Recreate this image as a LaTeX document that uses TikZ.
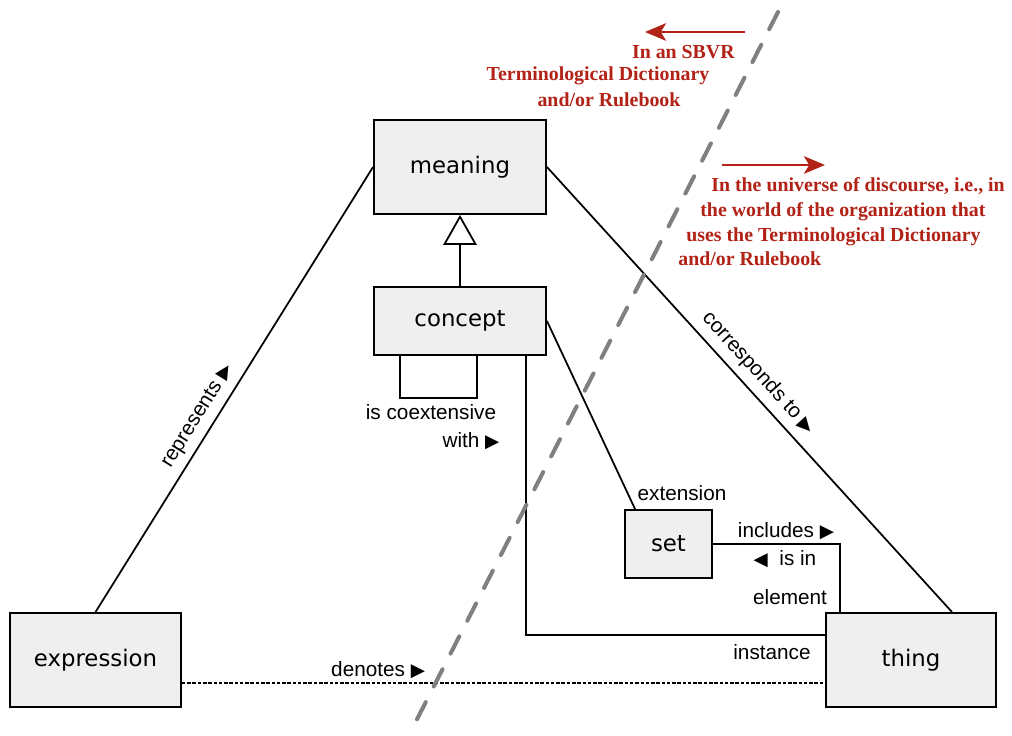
\documentclass[tikz,border=0pt]{standalone}
\usepackage{fontspec}
\setmainfont{Liberation Sans}
\newfontfamily\boxfont{DejaVu Sans}
\newfontfamily\notefont{Liberation Serif}
\usetikzlibrary{arrows.meta, calc, positioning}
\definecolor{boxgray}{RGB}{239,239,239}
\definecolor{notered}{RGB}{178,34,22}
\definecolor{splitgray}{RGB}{128,128,128}
\newcommand{\rtri}{{\boxfont\fontsize{10.5}{10}\selectfont\char"25B6}}
\newcommand{\ltri}{{\boxfont\fontsize{10.5}{10}\selectfont\char"25C0}}

\begin{document}
\begin{tikzpicture}[x=0.02cm, y=-0.02cm]
        \tikzstyle{box} = [rectangle, draw=black, line width=1.1pt, fill=boxgray, inner sep=0pt, font=\boxfont\fontsize{13}{15}\selectfont]
        \tikzstyle{lbl} = [inner sep=1pt, font=\fontsize{11.8}{13}\selectfont]
        \tikzstyle{link} = [draw=black, line width=1pt]
        \tikzstyle{note} = [text=notered, inner sep=0pt, font=\notefont\bfseries\fontsize{11.3}{13}\selectfont]
        \tikzstyle{notearrow} = [draw=notered, line width=1.2pt, -{Stealth[length=12pt, width=10pt, inset=3pt]}]

        \useasboundingbox (0,0) rectangle (1012,736);

        % classes
        \node[box, minimum width=3.44cm, minimum height=1.88cm] (meaning) at (460,167) {meaning};
        \node[box, minimum width=3.44cm, minimum height=1.36cm] (concept) at (460,321) {concept};
        \node[box, minimum width=3.42cm, minimum height=1.88cm] (expression) at (95.5,660) {expression};
        \node[box, minimum width=3.40cm, minimum height=1.88cm] (thing) at (911,660) {thing};
        \node[box, minimum width=1.74cm, minimum height=1.36cm] (set) at (668.5,544) {set};

        % associations
        \draw[link] (expression.north) -- (meaning.west)
            node[lbl, pos=0.42, sloped, above=3pt] (represents) {represents \rtri};
        \draw[link] (meaning.east) -- ($(thing.north)+(41,0)$)
            node[lbl, pos=0.49, sloped, above=3pt] (corresponds) {corresponds to \rtri};
        \draw[link, -{Triangle[open, length=17pt, width=19pt]}] (concept.north) -- (meaning.south);
        \draw[link] ($(concept.south)+(-60,0)$) -- ++(0,42) -| ($(concept.south)+(17,0)$);
        \draw[link] (concept.east) -- ($(set.north west)+(11,0)$);
        \draw[link] ($(concept.south)+(66,0)$) |- ($(thing.west)+(0,-25)$);
        \draw[link] (set.east) -| ($(thing.north)+(-71,0)$);
        \draw[link, dash pattern=on 2pt off 1pt] ($(expression.east)+(0,23)$) -- ($(thing.west)+(0,23)$)
            node[lbl, pos=0.305, above=1pt] (denotes) {denotes \rtri};

        % role names
        \node[lbl] (coext) at (431,412) {is coextensive};
        \node[lbl] (with) at (471,441) {with \rtri};
        \node[lbl] (extension) at (682,493) {extension};
        \node[lbl] (includes) at (786,531) {includes \rtri};
        \node[lbl] (isin) at (785,559) {\ltri\ \ is in};
        \node[lbl] (element) at (790,597) {element};
        \node[lbl] (instance) at (772,652) {instance};

        % boundary between dictionary and universe of discourse
        \coordinate (splittop) at (778,12);
        \coordinate (splitbot) at (410,733);
        \draw[splitgray, line width=2.3pt, line cap=round, dash pattern=on 11pt off 10pt] (splittop) -- (splitbot);

        % notes
        \coordinate (leftfrom) at (745,32);
        \coordinate (leftto) at (645,32);
        \draw[notearrow] (leftfrom) -- (leftto);
        \node[note, anchor=east] (sbvr1) at (735,52) {In an SBVR};
        \node[note] (sbvr2) at (598,76) {Terminological Dictionary};
        \node[note] (sbvr3) at (609,100) {and/or Rulebook};

        \coordinate (rightfrom) at (722,165);
        \coordinate (rightto) at (825,165);
        \draw[notearrow] (rightfrom) -- (rightto);
        \node[note, anchor=west] (uod1) at (711,186) {In the universe of discourse, i.e., in};
        \node[note, anchor=west] (uod2) at (700,212) {the world of the organization that};
        \node[note, anchor=west] (uod3) at (686,237) {uses the Terminological Dictionary};
        \node[note, anchor=west] (uod4) at (678,259) {and/or Rulebook};
\end{tikzpicture}
\end{document}
